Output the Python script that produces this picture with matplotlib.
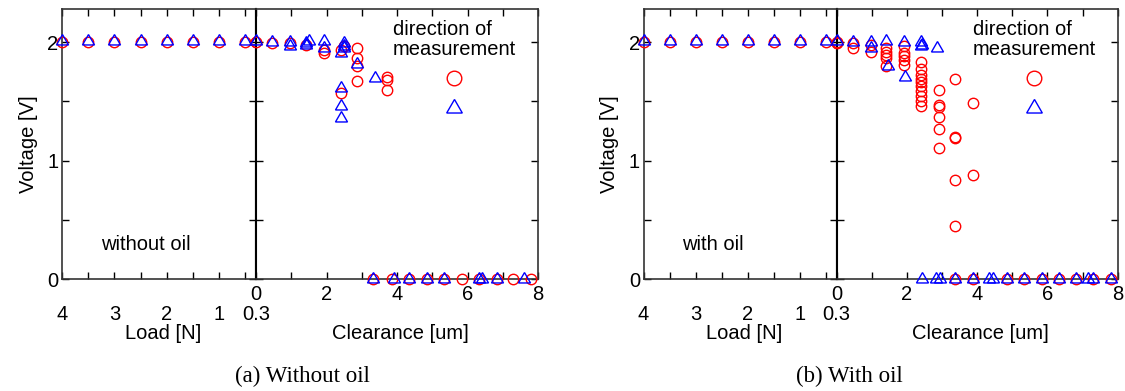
import matplotlib
matplotlib.use('Agg')
import matplotlib.pyplot as plt
from matplotlib.ticker import MultipleLocator, FixedLocator
from matplotlib.lines import Line2D

plt.rcParams['font.family'] = ['Liberation Sans', 'DejaVu Sans']
FS = 14.5

# load side (shared by both panels)
load_n = [4.0, 3.5, 3.0, 2.5, 2.0, 1.5, 1.0, 0.5, 0.3]
load_ticks = [4, 3, 2, 1, 0.3]
load_labels = ['4', '3', '2', '1', '0.3']

# (a) without oil
dry_load_circ = [2.00, 2.00, 2.00, 2.00, 2.00, 2.00, 2.00, 2.00, 2.00]
dry_load_tri = [2.01, 2.01, 2.01, 2.01, 2.01, 2.01, 2.01, 2.01, 2.01]
dry_circ_x = [0.0, 0.46, 0.97, 1.42, 1.94, 1.94, 2.40, 2.50, 2.87, 2.87, 2.87, 2.87,
              2.40, 3.71, 3.71, 3.71,
              3.33, 3.85, 4.33, 4.85, 5.32, 5.84, 6.32, 6.84, 7.30, 7.80]
dry_circ_v = [2.005, 1.99, 1.99, 1.98, 1.935, 1.91, 1.935, 1.965, 1.955, 1.865, 1.795, 1.67,
              1.57, 1.71, 1.68, 1.60,
              0, 0, 0, 0, 0, 0, 0, 0, 0, 0]
dry_tri_x = [0.0, 0.46, 0.97, 0.97, 1.42, 1.42, 1.49, 1.94, 1.94, 2.40, 2.50, 2.50, 2.50,
             2.87, 2.40, 2.40, 2.40, 3.38,
             3.33, 3.92, 4.33, 4.85, 5.32, 6.32, 6.40, 6.84, 7.60]
dry_tri_v = [2.01, 2.00, 2.00, 1.97, 1.99, 1.98, 2.01, 2.01, 1.95, 1.91, 1.99, 1.97, 1.955,
             1.82, 1.61, 1.46, 1.36, 1.70,
             0, 0, 0, 0, 0, 0, 0, 0, 0]

# (b) with oil
oil_load_circ = [2.00, 2.00, 2.00, 2.00, 2.00, 2.00, 2.00, 2.00, 1.99]
oil_load_tri = [2.01, 2.01, 2.01, 2.01, 2.01, 2.01, 2.01, 2.01, 2.01]
oil_circ_x = [0.0, 0.0, 0.48, 0.48, 0.98, 0.98, 1.40, 1.40, 1.40, 1.40, 1.40,
              1.93, 1.93, 1.93, 1.93, 1.93,
              2.39, 2.39, 2.39, 2.39, 2.39, 2.39, 2.39, 2.39, 2.39, 2.39,
              2.92, 2.92, 2.92, 2.92, 2.92, 2.92,
              3.37, 3.37, 3.37, 3.37, 3.37, 3.87, 3.87,
              3.37, 3.87, 4.85, 5.34, 5.83, 6.33, 6.80, 7.29, 7.82]
oil_circ_v = [2.005, 1.995, 1.99, 1.95, 1.98, 1.92, 1.95, 1.92, 1.89, 1.865, 1.795,
              1.965, 1.91, 1.88, 1.85, 1.81,
              1.83, 1.77, 1.72, 1.69, 1.66, 1.63, 1.59, 1.55, 1.50, 1.46,
              1.60, 1.47, 1.45, 1.37, 1.27, 1.11,
              1.69, 1.20, 1.19, 0.84, 0.45, 1.485, 0.88,
              0, 0, 0, 0, 0, 0, 0, 0, 0]
oil_tri_x = [0.0, 0.48, 0.98, 0.98, 1.40, 1.47, 1.93, 1.95, 2.39, 2.42, 2.39, 2.86,
             2.42, 2.83, 2.94, 3.37, 3.87, 4.34, 4.45, 4.85, 5.34, 5.83, 6.33, 6.80,
             7.15, 7.29, 7.82]
oil_tri_v = [2.01, 2.00, 2.00, 1.955, 2.01, 1.80, 2.005, 1.705, 2.00, 1.98, 1.97, 1.955,
             0, 0, 0, 0, 0, 0, 0, 0, 0, 0, 0, 0,
             0, 0, 0]

circ = dict(ls='none', marker='o', ms=7.5, mfc='none', mec='#ff0000', mew=1.0,
            clip_on=False, zorder=3)
tri = dict(ls='none', marker=(3, 0, 0), ms=10, mfc='none', mec='#0000ff', mew=1.0,
           clip_on=False, zorder=3)


def draw_panel(ax_l, ax_c, lc, lt, cx, cv, tx, tv, note, note_x):
    ax_l.plot(load_n, lc, **circ)
    ax_l.plot(load_n, lt, **tri)
    ax_c.plot(cx, cv, **circ)
    ax_c.plot(tx, tv, **tri)

    for ax in (ax_l, ax_c):
        ax.set_ylim(0, 2.28)
        ax.yaxis.set_major_locator(MultipleLocator(1))
        ax.yaxis.set_minor_locator(MultipleLocator(0.5))
        ax.tick_params(which='both', direction='in', length=5, width=1,
                       top=True, right=True, labelsize=FS, colors='black')
        for sp in ax.spines.values():
            sp.set_color('#333333')
            sp.set_linewidth(1.2)

    ax_l.spines['right'].set_color('black')
    ax_l.spines['right'].set_linewidth(1.5)
    ax_c.spines['left'].set_color('black')
    ax_c.spines['left'].set_linewidth(1.5)

    ax_l.set_xlim(4, 0.3)
    ax_l.set_xticks(load_ticks)
    ax_l.set_xticklabels(load_labels)
    ax_l.xaxis.set_minor_locator(FixedLocator([3.5, 2.5, 1.5, 0.5]))
    ax_l.tick_params(axis='x', pad=18.5)
    ax_l.tick_params(axis='y', pad=2.5)

    ax_c.set_xlim(0, 8)
    ax_c.xaxis.set_major_locator(MultipleLocator(2))
    ax_c.xaxis.set_minor_locator(MultipleLocator(1))
    ax_c.tick_params(axis='x', pad=4)
    ax_c.tick_params(axis='y', labelleft=False)

    ax_l.set_ylabel('Voltage [V]', fontsize=FS)
    ax_l.yaxis.set_label_coords(-0.125, 0.5)
    ax_l.set_xlabel('Load [N]', fontsize=FS)
    ax_l.xaxis.set_label_coords(0.52, -0.165)
    ax_c.set_xlabel('Clearance [um]', fontsize=FS)
    ax_c.xaxis.set_label_coords(0.51, -0.165)

    ax_l.text(note_x, 0.127, note, transform=ax_l.transAxes, fontsize=FS,
              ha='center', va='center')

    handles = [Line2D([], [], ls='none', marker='o', ms=10.5, mfc='none',
                      mec='#ff0000', mew=1.0),
               Line2D([], [], ls='none', marker=(3, 0, 0), ms=13, mfc='none',
                      mec='#0000ff', mew=1.0)]
    leg = ax_c.legend(handles, ['', ''], title='direction of\nmeasurement',
                      title_fontsize=FS, fontsize=FS, loc='upper left',
                      bbox_to_anchor=(0.477, 0.966), frameon=False,
                      handlelength=1.0, handletextpad=0, labelspacing=0.55,
                      borderaxespad=0, borderpad=0.1, alignment='center')
    leg.get_title().set_multialignment('left')
    leg.get_title().set_linespacing(1.05)


fig = plt.figure(figsize=(11.25, 3.91), dpi=100)
bot, hgt = 0.2857, 0.6913
ax1 = fig.add_axes([0.0551, bot, 0.1724, hgt])
ax2 = fig.add_axes([0.2276, bot, 0.2507, hgt])
ax3 = fig.add_axes([0.5720, bot, 0.1716, hgt])
ax4 = fig.add_axes([0.7436, bot, 0.2500, hgt])

draw_panel(ax1, ax2, dry_load_circ, dry_load_tri, dry_circ_x, dry_circ_v,
           dry_tri_x, dry_tri_v, 'without oil', 0.433)
draw_panel(ax3, ax4, oil_load_circ, oil_load_tri, oil_circ_x, oil_circ_v,
           oil_tri_x, oil_tri_v, 'with oil', 0.36)

fig.text(302 / 1125, 1 - 376 / 391, '(a) Without oil', ha='center', va='center',
         family='Liberation Serif', fontsize=16.5)
fig.text(849 / 1125, 1 - 376 / 391, '(b) With oil', ha='center', va='center',
         family='Liberation Serif', fontsize=16.5)

fig.savefig('out.png', dpi=100)
